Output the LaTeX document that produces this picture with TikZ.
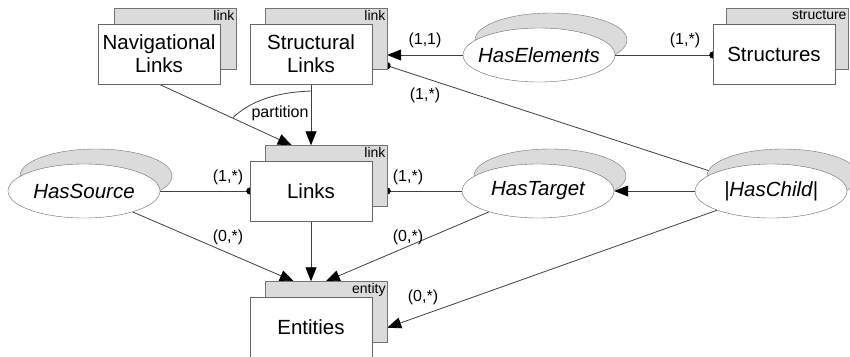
\documentclass[tikz,border=0pt]{standalone}
\usepackage{fontspec}
\setmainfont{Liberation Sans}
\usetikzlibrary{shapes.geometric,arrows.meta,backgrounds}

\newcommand{\relname}[1]{\makebox[0pt]{#1}}

\begin{document}
\begin{tikzpicture}[x=1pt,y=-1pt,
    ebox/.style={draw=black!60,fill=white,minimum width=122pt,minimum height=60pt,
                 inner sep=1pt,align=center,font=\fontsize{20.5}{23}\selectfont},
    shbox/.style={draw=black!55,fill=black!14,minimum width=122pt,minimum height=61pt},
    tag/.style={anchor=north east,inner sep=1.5pt,font=\fontsize{14}{14}\selectfont},
    rel/.style={ellipse,draw=black!60,fill=white,minimum width=152pt,minimum height=54pt,
                inner sep=0pt,font=\fontsize{20.5}{23}\selectfont\itshape},
    shrel/.style={ellipse,draw=black!55,fill=black!14,minimum width=152pt,minimum height=54pt},
    card/.style={inner sep=0pt,font=\fontsize{16}{16}\selectfont},
    conn/.style={draw=black!75,line width=0.8pt},
    dot/.style={-{Circle[length=7pt,black]},shorten >=-3.5pt},
    >={Triangle[length=14pt,width=11pt,black]}]
  \useasboundingbox (0,0) rectangle (850,356);

  % entity boxes
  \node[shbox,label={[tag]north east:link}] (nav-s) at (175,39) {};
  \node[ebox] (nav) at (159,54) {Navigational\\Links};
  \node[shbox,label={[tag]north east:link}] (str-s) at (326,39) {};
  \node[ebox] (str) at (311,54) {Structural\\Links};
  \node[shbox,label={[tag]north east:structure}] (struc-s) at (787,39) {};
  \node[ebox] (struc) at (774,54) {Structures};
  \node[shbox,label={[tag]north east:link}] (links-s) at (326,176) {};
  \node[ebox] (links) at (311,191) {Links};
  \node[shbox,label={[tag]north east:entity}] (ent-s) at (326,312) {};
  \node[ebox] (ent) at (311,327) {Entities};

  % relationships
  \node[shrel] (haselem-s) at (551,40) {};
  \node[rel] (haselem) at (539,55) {\relname{HasElements}};
  \node[shrel] (hassrc-s) at (96,176) {};
  \node[rel] (hassrc) at (84,191) {\relname{HasSource}};
  \node[shrel] (hastgt-s) at (550,176) {};
  \node[rel] (hastgt) at (538,191) {\relname{HasTarget}};
  \node[shrel] (haschild-s) at (783,176) {};
  \node[rel] (haschild) at (771,191) {\relname{|HasChild|}};

  % cardinalities
  \node[card] (c1) at (425,40) {(1,1)};
  \node[card] (c2) at (685,40) {(1,*)};
  \node[card] (c3) at (425,95) {(1,*)};
  \node[card] (c4) at (228,177) {(1,*)};
  \node[card] (c5) at (408,177) {(1,*)};
  \node[card] (c6) at (228,237) {(0,*)};
  \node[card] (c7) at (408,237) {(0,*)};
  \node[card] (c8) at (423,297) {(0,*)};
  \node[card] (part) at (280,113) {partition};

  \begin{scope}[on background layer]
    \fill[white] (0,0) rectangle (850,356);
    \draw[conn,->] (nav.south) -- ([xshift=27pt]links-s.north west);
    \draw[conn,->] (str.south) -- (str.south |- links-s.north);
    \coordinate (pa) at (233,117.5);
    \coordinate (pb) at (311,91);
    \draw[conn] (pa) .. controls (255,97) and (285,92) .. (pb);
    \draw[conn,->] (haselem.west) -- (haselem.west -| str-s.east);
    \draw[conn,dot] (haselem.east) -- (haselem.east -| struc.west);
    \draw[conn,dot] (haschild) -- ([yshift=4pt]str-s.south east);
    \draw[conn,dot] (hassrc) -- (links);
    \draw[conn,dot] (hastgt.west) -- (hastgt.west -| links-s.east);
    \draw[conn,->] (haschild) -- (hastgt);
    \draw[conn,->] (hassrc) -- ([xshift=29pt]ent-s.north west);
    \draw[conn,->] (links) -- (links |- ent-s.north);
    \draw[conn,->] (hastgt) -- ([xshift=61pt]ent-s.north west);
    \draw[conn,->] (haschild) -- ([yshift=15pt]ent-s.south east);
  \end{scope}
\end{tikzpicture}
\end{document}
